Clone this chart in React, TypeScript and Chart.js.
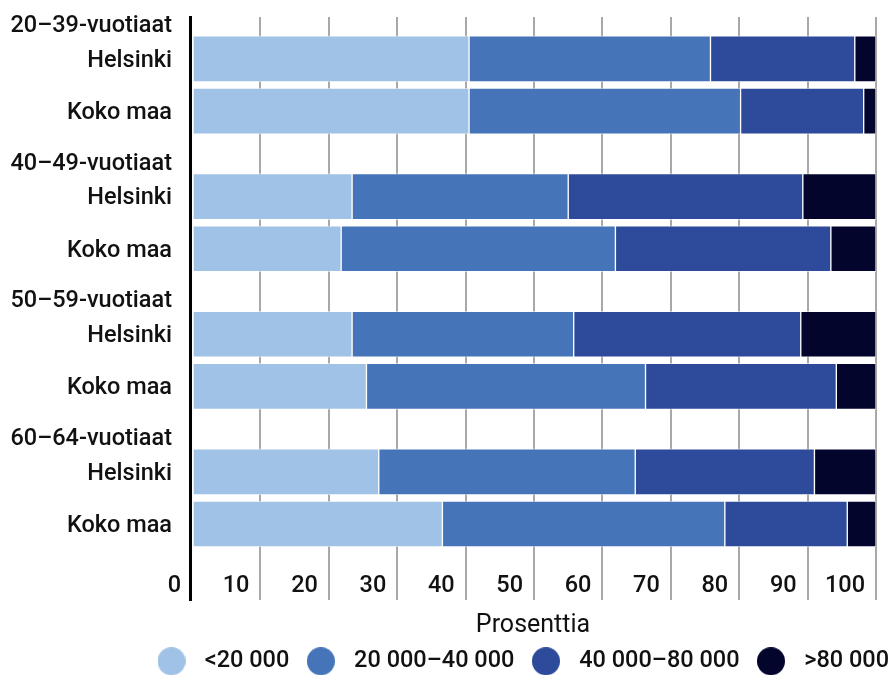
import React, { useEffect, useRef } from "react";
import { Chart, registerables } from "chart.js";

Chart.register(...registerables);

// ---- data ----
const GROUPS = ["20–39-vuotiaat", "40–49-vuotiaat", "50–59-vuotiaat", "60–64-vuotiaat"];
const AREAS = ["Helsinki", "Koko maa"];
const SERIES = ["<20 000", "20 000–40 000", "40 000–80 000", ">80 000"];
const COLORS = ["#a0c2e6", "#4575b8", "#2e4b9b", "#03052d"];
// rows: 20–39 Helsinki, 20–39 Koko maa, 40–49 Helsinki, 40–49 Koko maa, ...
const UNDER_20K = [40.5, 40.5, 23.4, 21.8, 23.4, 25.5, 27.3, 36.6];
const K20_40 = [35.3, 39.7, 31.6, 40.1, 32.4, 40.8, 37.5, 41.3];
const K40_80 = [21.1, 18.0, 34.3, 31.5, 33.2, 27.9, 26.2, 17.9];
const OVER_80K = [3.1, 1.8, 10.7, 6.6, 11.0, 5.8, 9.0, 4.2];
const X_TICKS = [0, 10, 20, 30, 40, 50, 60, 70, 80, 90, 100];
const X_TITLE = "Prosenttia";

// ---- layout of rows on the index axis ----
const GROUP_STEP = 2.64;
const AREA_OFFSET = 0.67;

const TICK_ENTRIES: { pos: number; label: string }[] = [];
const BAR_POS: number[] = [];
GROUPS.forEach((g, gi) => {
  TICK_ENTRIES.push({ pos: gi * GROUP_STEP, label: g });
  AREAS.forEach((a, ai) => {
    const p = gi * GROUP_STEP + AREA_OFFSET + ai;
    TICK_ENTRIES.push({ pos: p, label: a });
    BAR_POS.push(p);
  });
});

const VALUES = [UNDER_20K, K20_40, K40_80, OVER_80K];
const TEXT = "#111111";
const FONT = "Roboto";
const LABEL_SIZE = 23.5;

function makeDot(color: string): HTMLCanvasElement {
  const c = document.createElement("canvas");
  c.width = 28;
  c.height = 28;
  const ctx = c.getContext("2d")!;
  ctx.fillStyle = color;
  ctx.beginPath();
  ctx.arc(14, 14, 14, 0, Math.PI * 2);
  ctx.fill();
  return c;
}

const legendPlace = {
  id: "legendPlace",
  afterLayout(chart: any) {
    const lg = chart.legend;
    if (lg) {
      lg.left = 140;
      lg.right = 2000;
    }
  },
};

export default function App() {
  const ref = useRef<HTMLCanvasElement | null>(null);

  useEffect(() => {
    document.body.style.margin = "0";
    if (!ref.current) return;
    const dots = COLORS.map(makeDot);

    const chart = new Chart(ref.current, {
      type: "bar",
      data: {
        datasets: SERIES.map((label, i) => ({
          label,
          data: VALUES[i].map((v, r) => ({ x: v, y: BAR_POS[r] })),
          backgroundColor: COLORS[i],
          borderColor: "rgba(255,255,255,0.55)",
          borderWidth: 1,
          borderSkipped: false,
          barThickness: 46,
        })),
      },
      options: {
        indexAxis: "y",
        animation: false,
        responsive: false,
        devicePixelRatio: 1,
        layout: { padding: { top: 17, right: 13, bottom: -8, left: 0 } },
        scales: {
          x: {
            type: "linear",
            position: "bottom",
            min: -0.3,
            max: 100,
            bounds: "data",
            stacked: true,
            afterBuildTicks: (s: any) => {
              s.ticks = X_TICKS.map((v) => ({ value: v }));
            },
            grid: {
              color: (ctx: any) =>
                ctx.tick && ctx.tick.value === 0 ? "rgba(0,0,0,0)" : "#a8a8a8",
              lineWidth: 2,
              drawTicks: false,
            },
            border: { display: false },
            ticks: {
              mirror: true,
              align: "end",
              labelOffset: -11,
              padding: 0,
              autoSkip: false,
              maxRotation: 0,
              color: TEXT,
              font: { family: FONT, size: LABEL_SIZE, weight: "500" },
            },
            title: {
              display: true,
              text: X_TITLE,
              color: TEXT,
              font: { family: FONT, size: 25, weight: "400" },
              padding: { top: 11, bottom: -1.5 },
            },
          },
          y: {
            type: "linear",
            reverse: true,
            offset: false,
            min: -0.134,
            max: 11.047,
            bounds: "data",
            stacked: true,
            afterBuildTicks: (s: any) => {
              s.ticks = TICK_ENTRIES.map((t) => ({ value: t.pos }));
            },
            afterFit: (s: any) => {
              s.width = 190;
            },
            grid: { display: false, drawTicks: true, tickLength: 18, offset: false },
            border: { display: true, color: "#000000", width: 3 },
            ticks: {
              padding: 0,
              labelOffset: 2,
              autoSkip: false,
              color: TEXT,
              font: { family: FONT, size: LABEL_SIZE, weight: "500" },
              callback: (_v: any, i: number) => TICK_ENTRIES[i].label,
            },
          },
        },
        plugins: {
          tooltip: { enabled: false },
          legend: {
            position: "bottom",
            align: "start",
            labels: {
              usePointStyle: true,
              pointStyleWidth: 43,
              boxHeight: 20,
              padding: 10,
              color: TEXT,
              font: { family: FONT, size: LABEL_SIZE, weight: "500" },
              generateLabels: () =>
                SERIES.map((text, i) => ({
                  text,
                  fillStyle: COLORS[i],
                  strokeStyle: COLORS[i],
                  lineWidth: 0,
                  pointStyle: dots[i],
                  hidden: false,
                  datasetIndex: i,
                  fontColor: TEXT,
                })),
            },
          },
        },
      } as any,
      plugins: [legendPlace],
    });
    return () => chart.destroy();
  }, []);

  return (
    <div style={{ width: 889, height: 675, overflow: "hidden" }}>
      <canvas ref={ref} width={889} height={675} />
    </div>
  );
}
